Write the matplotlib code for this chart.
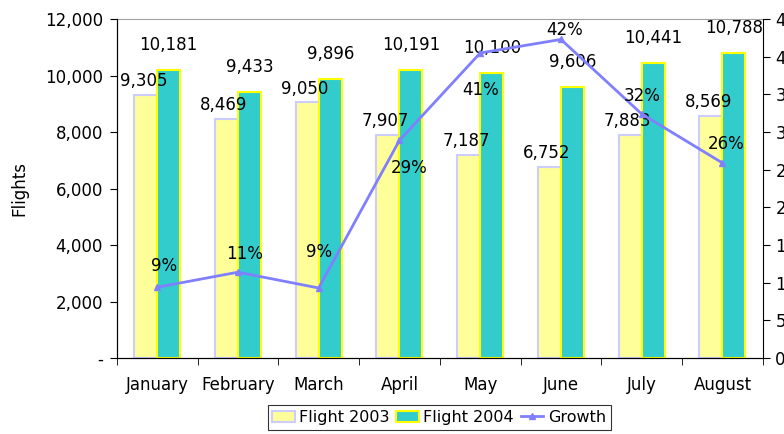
import numpy as np
import matplotlib
matplotlib.use("Agg")
import matplotlib.pyplot as plt
from matplotlib.ticker import FuncFormatter, MultipleLocator

months = ["January", "February", "March", "April", "May", "June", "July", "August"]
flight2003 = [9305, 8469, 9050, 7907, 7187, 6752, 7883, 8569]
flight2004 = [10181, 9433, 9896, 10191, 10100, 9606, 10441, 10788]
growth = [0.094, 0.114, 0.093, 0.289, 0.405, 0.423, 0.324, 0.259]
growth_labels = ["9%", "11%", "9%", "29%", "41%", "42%", "32%", "26%"]
# label offsets (points) for the growth labels, as placed in the original
gl_off = [(5, 15), (5, 13), (0, 26), (7, -20), (0, -27), (3, 7), (0, 13), (3, 14)]

plt.rcParams['font.family'] = ['DejaVu Sans']
FS = 12
fig = plt.figure(figsize=(7.84, 4.34), dpi=100)
ax = fig.add_axes([0.149, 0.175, 0.824, 0.781])

x = np.arange(len(months))
w = 0.285
ax.bar(x - w / 2, flight2003, w, color="#FFFF99", edgecolor="#CCCCFF", linewidth=1.5,
       label="Flight 2003", zorder=2)
ax.bar(x + w / 2, flight2004, w, color="#33CCCC", edgecolor="#FFFF00", linewidth=1.5,
       label="Flight 2004", zorder=2)

for i in range(len(months)):
    ax.annotate(f"{flight2003[i]:,}", (x[i] - w / 2 - 0.03, flight2003[i]), xytext=(0, 10),
                textcoords="offset points", ha="center", va="center", fontsize=FS, zorder=5)
    ax.annotate(f"{flight2004[i]:,}", (x[i] + w / 2, flight2004[i]), xytext=(0, 18),
                textcoords="offset points", ha="center", va="center", fontsize=FS, zorder=5)

ax.set_xlim(-0.5, len(months) - 0.5)
ax.set_ylim(0, 12000)
ax.yaxis.set_major_locator(MultipleLocator(2000))
ax.yaxis.set_major_formatter(FuncFormatter(lambda v, p: "-" if v == 0 else f"{int(v):,}"))
ax.set_xticks(x)
ax.set_xticklabels(months)
ax.set_xticks(np.arange(-0.5, len(months)), minor=True)
ax.tick_params(axis="x", which="major", length=0, labelsize=FS, pad=13)
ax.tick_params(axis="x", which="minor", length=5, direction="out", color="black")
ax.tick_params(axis="y", length=5, direction="out", labelsize=FS, pad=5)
ax.set_ylabel("Flights", fontsize=FS, labelpad=12)
for s in ["left", "bottom"]:
    ax.spines[s].set_color("black")
ax.spines["top"].set_color("#A0A0A0")
ax.spines["right"].set_visible(False)

ax2 = ax.twinx()
ax2.plot(x, growth, color="#8080FF", linewidth=2, marker="^", markersize=5,
         label="Growth", zorder=6)
ax2.set_ylim(0, 0.45)
ax2.yaxis.set_major_locator(MultipleLocator(0.05))
ax2.yaxis.set_major_formatter(FuncFormatter(lambda v, p: f"{v * 100:.0f}%"))
ax2.tick_params(axis="y", length=5, direction="out", labelsize=FS, pad=4)
ax2.spines["right"].set_color("black")
ax2.spines["top"].set_visible(False)
for i in range(len(months)):
    ax2.annotate(growth_labels[i], (x[i], growth[i]), xytext=gl_off[i],
                 textcoords="offset points", ha="center", va="center", fontsize=FS, zorder=7)

h1, l1 = ax.get_legend_handles_labels()
h2, l2 = ax2.get_legend_handles_labels()
leg = fig.legend(h1 + h2, l1 + l2, loc="upper center", bbox_to_anchor=(0.56, 0.067),
                 ncol=3, fontsize=11.5, frameon=True, fancybox=False, handlelength=1.4,
                 handletextpad=0.3, columnspacing=0.4, borderpad=0.3, borderaxespad=0)
leg.get_frame().set_edgecolor("black")
leg.get_frame().set_linewidth(0.8)

fig.savefig("out.png", dpi=100)
